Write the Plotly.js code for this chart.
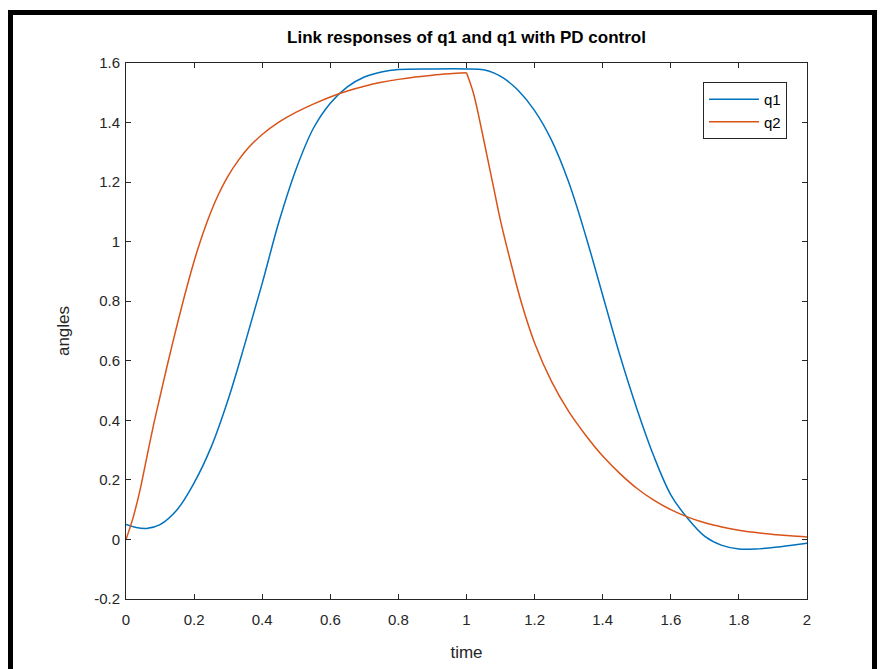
<!DOCTYPE html>
<html>
<head>
<meta charset="utf-8">
<script src="https://cdn.plot.ly/plotly-3.0.1.min.js"></script>
<style>
  html, body { margin: 0; padding: 0; background: #ffffff; }
  #wrap { position: relative; width: 880px; height: 669px; overflow: hidden; }
  #chart { position: absolute; left: 0; top: 0; width: 880px; height: 669px; }
  #frame { position: absolute; left: 8px; top: 10px; width: 859px; height: 720px;
           border: 5px solid #000; pointer-events: none; box-sizing: content-box; }
</style>
</head>
<body>
<div id="wrap">
  <div id="chart"></div>
  <div id="frame"></div>
</div>
<script>
// ---- data ----
const chartTitle = "Link responses of q1 and q1 with PD control";
const xTitle = "time";
const yTitle = "angles";

const q1Name = "q1";
const q1Time = [0, 0.03, 0.06, 0.1, 0.15, 0.2, 0.25, 0.3, 0.35, 0.4, 0.45, 0.5, 0.55, 0.6, 0.65, 0.7, 0.75, 0.8, 0.9, 1.0, 1.05, 1.08, 1.11, 1.15, 1.2, 1.25, 1.3, 1.35, 1.4, 1.45, 1.5, 1.55, 1.6, 1.65, 1.7, 1.75, 1.8, 1.85, 1.9, 1.95, 2.0];
const q1Angle = [0.05, 0.04, 0.037, 0.05, 0.1, 0.19, 0.31, 0.47, 0.66, 0.86, 1.07, 1.245, 1.38, 1.465, 1.52, 1.553, 1.57, 1.578, 1.58, 1.58, 1.577, 1.567, 1.548, 1.51, 1.44, 1.34, 1.20, 1.02, 0.82, 0.62, 0.44, 0.28, 0.15, 0.07, 0.01, -0.02, -0.032, -0.032, -0.027, -0.02, -0.013];

// q2 rises until the set-point switch at t = 1, then decays
const q2Name = "q2";
const q2RiseTime = [0, 0.02, 0.04, 0.06, 0.08, 0.1, 0.12, 0.15, 0.18, 0.21, 0.24, 0.27, 0.3, 0.33, 0.36, 0.4, 0.45, 0.5, 0.55, 0.6, 0.65, 0.7, 0.75, 0.8, 0.85, 0.9, 0.95, 1.0];
const q2RiseAngle = [0, 0.07, 0.16, 0.27, 0.38, 0.48, 0.579, 0.72, 0.853, 0.972, 1.072, 1.155, 1.221, 1.273, 1.316, 1.36, 1.402, 1.435, 1.462, 1.486, 1.506, 1.522, 1.535, 1.545, 1.553, 1.559, 1.5635, 1.567];
const q2FallTime = [1.0, 1.02, 1.04, 1.06, 1.08, 1.1, 1.13, 1.16, 1.2, 1.25, 1.3, 1.35, 1.4, 1.45, 1.5, 1.55, 1.6, 1.65, 1.7, 1.75, 1.8, 1.85, 1.9, 1.95, 2.0];
const q2FallAngle = [1.567, 1.50, 1.40, 1.29, 1.18, 1.07, 0.93, 0.80, 0.66, 0.53, 0.43, 0.35, 0.28, 0.222, 0.172, 0.132, 0.10, 0.075, 0.056, 0.042, 0.031, 0.023, 0.017, 0.012, 0.008];

const xTickVals = [0, 0.2, 0.4, 0.6, 0.8, 1, 1.2, 1.4, 1.6, 1.8, 2];
const xTickText = ["0", "0.2", "0.4", "0.6", "0.8", "1", "1.2", "1.4", "1.6", "1.8", "2"];
const yTickVals = [-0.2, 0, 0.2, 0.4, 0.6, 0.8, 1, 1.2, 1.4, 1.6];
const yTickText = ["-0.2", "0", "0.2", "0.4", "0.6", "0.8", "1", "1.2", "1.4", "1.6"];

// ---- chart ----
const axisColor = "#262626";
const fontFam = "Liberation Sans, Arial, Helvetica, sans-serif";
const blue = "#0072BD", orange = "#D95319";

const traces = [
  { x: q1Time, y: q1Angle, name: q1Name, type: "scatter", mode: "lines",
    line: { color: blue, width: 1.5, shape: "spline", smoothing: 1 } },
  { x: q2RiseTime, y: q2RiseAngle, name: q2Name, legendgroup: "q2", type: "scatter", mode: "lines",
    line: { color: orange, width: 1.5, shape: "spline", smoothing: 1 } },
  { x: q2FallTime, y: q2FallAngle, name: q2Name, legendgroup: "q2", showlegend: false,
    type: "scatter", mode: "lines",
    line: { color: orange, width: 1.5, shape: "spline", smoothing: 1 } }
];

const axisCommon = {
  showline: true, linecolor: axisColor, linewidth: 1, mirror: "ticks",
  ticks: "inside", ticklen: 5, tickcolor: axisColor, tickwidth: 1,
  showgrid: false, zeroline: false,
  tickfont: { family: fontFam, size: 15, color: axisColor },
  tickmode: "array"
};

const layout = {
  width: 880, height: 669,
  paper_bgcolor: "#ffffff", plot_bgcolor: "#ffffff",
  margin: { l: 126, r: 73, t: 63, b: 70 },
  font: { family: fontFam, color: axisColor },
  title: { text: "<b>" + chartTitle + "</b>", font: { family: fontFam, size: 17, color: "#000" },
           x: 0.5, xanchor: "center", y: 1 - 37 / 669, yanchor: "middle",
           xref: "paper", yref: "container" },
  xaxis: Object.assign({}, axisCommon, {
    range: [0, 2], tickvals: xTickVals, ticktext: xTickText, ticklabelstandoff: 7,
    title: { text: xTitle, font: { family: fontFam, size: 17, color: axisColor }, standoff: 19 }
  }),
  yaxis: Object.assign({}, axisCommon, {
    range: [-0.2, 1.6], tickvals: yTickVals, ticktext: yTickText, ticklabelstandoff: 2,
    title: { text: yTitle, font: { family: fontFam, size: 17, color: axisColor }, standoff: 20 }
  }),
  showlegend: true,
  legend: {
    x: (787 - 126) / 681, xanchor: "right", y: (599 - 82) / 536, yanchor: "top",
    bgcolor: "#ffffff", bordercolor: axisColor, borderwidth: 1, itemwidth: 50,
    tracegroupgap: 0,
    font: { family: fontFam, size: 15, color: "#000" }
  }
};

Plotly.newPlot("chart", traces, layout, { staticPlot: true, displayModeBar: false });
</script>
</body>
</html>
